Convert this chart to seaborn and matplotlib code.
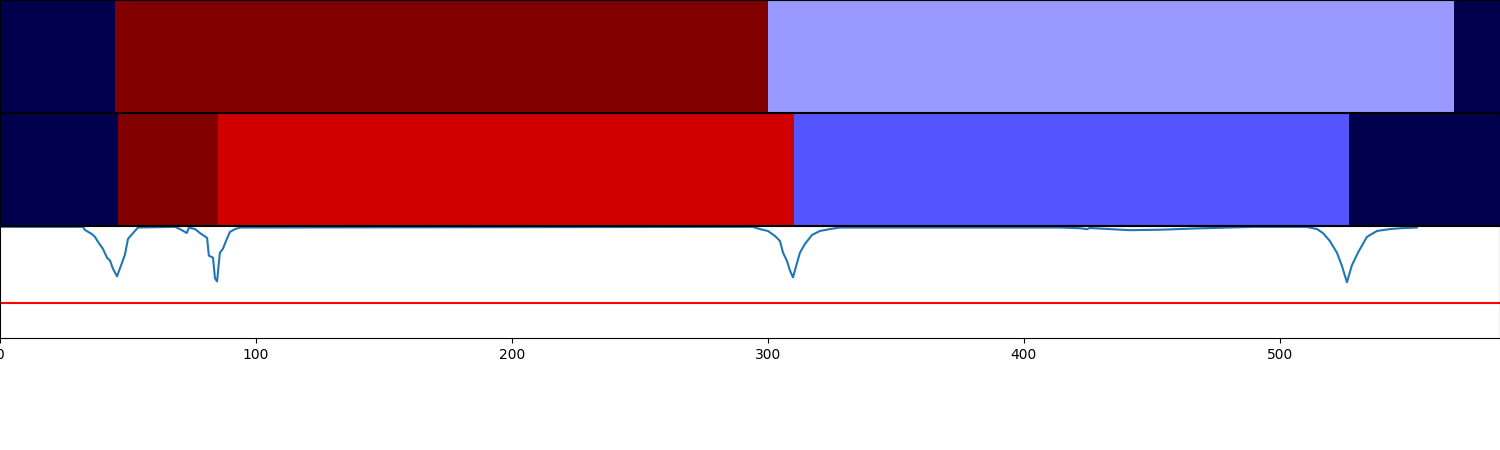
import numpy as np
import matplotlib
matplotlib.use("Agg")
import matplotlib.pyplot as plt
import seaborn as sns

n_samples = 586

# segmentation rows: (start, end, value on the seismic scale)
seg_top_bounds = [0, 45, 300, 568, 586]
seg_top_values = [0.0, 1.0, 0.4, 0.0]
seg_bot_bounds = [0, 46, 85, 310, 527, 586]
seg_bot_values = [0.0, 1.0, 0.842, 0.333, 0.0]

# signal line
sig_x = [0, 32.4, 33.2, 35.9, 37.1, 38.3, 40.2, 41.8, 43.0, 44.1, 45.7, 47.7, 48.8, 50.0, 52.0, 53.9,
         68.4, 70.3, 73.0, 73.8, 76.2, 78.1, 80.9, 81.6, 83.2, 84.0, 84.8, 85.9, 87.1, 88.3, 89.8, 91.8, 93.8,
         294.1, 296.9, 300.0, 302.7, 304.7, 305.9, 307.4, 308.6, 309.8, 311.3, 312.5, 314.5, 317.2, 320.3, 324.2, 328.1,
         414.0, 421.9, 424.6, 425.8, 441.4, 454.3, 467.6, 480.5, 489.5,
         510.5, 514.5, 516.8, 519.5, 522.3, 524.2, 526.2, 528.1, 530.5, 534.0, 537.9, 543.0, 548.0, 553.5]
sig_y = [0.996, 0.996, 0.968, 0.932, 0.906, 0.861, 0.799, 0.72, 0.693, 0.623, 0.552, 0.676, 0.746, 0.888, 0.941, 0.99,
         0.996, 0.976, 0.941, 0.99, 0.976, 0.941, 0.897, 0.738, 0.72, 0.534, 0.507, 0.764, 0.80, 0.87, 0.95, 0.976, 0.99,
         0.996, 0.976, 0.959, 0.915, 0.87, 0.764, 0.693, 0.605, 0.543, 0.667, 0.764, 0.844, 0.923, 0.959, 0.976, 0.99,
         0.99, 0.984, 0.975, 0.986, 0.966, 0.971, 0.982, 0.99, 0.996,
         0.996, 0.976, 0.941, 0.87, 0.764, 0.649, 0.499, 0.649, 0.764, 0.906, 0.959, 0.976, 0.985, 0.99]
threshold = 0.31


def expand(bounds, values):
    row = np.zeros(n_samples)
    for i, v in enumerate(values):
        row[bounds[i]:bounds[i + 1]] = v
    return row.reshape(1, -1)


fig, axes = plt.subplots(3, 1, figsize=(15, 4.5), dpi=100,
                         gridspec_kw=dict(left=0, right=1, top=1, bottom=0.249, hspace=0.015))

for ax, (b, v) in zip(axes[:2], [(seg_top_bounds, seg_top_values), (seg_bot_bounds, seg_bot_values)]):
    sns.heatmap(expand(b, v), ax=ax, cmap="seismic", vmin=0, vmax=1, cbar=False,
                xticklabels=False, yticklabels=False)
    for s in ax.spines.values():
        s.set_visible(True)
        s.set_linewidth(0.8)
    ax.set_xlim(0, n_samples)

ax = axes[2]
sns.lineplot(x=sig_x, y=sig_y, ax=ax, color="#1f77b4", linewidth=1.5)
ax.axhline(threshold, color="red", linewidth=1.5)
ax.set_xlim(0, n_samples)
ax.set_ylim(0, 1)
ax.set_yticks([])
ax.set_xticks([0, 100, 200, 300, 400, 500])

fig.savefig("out.png")
